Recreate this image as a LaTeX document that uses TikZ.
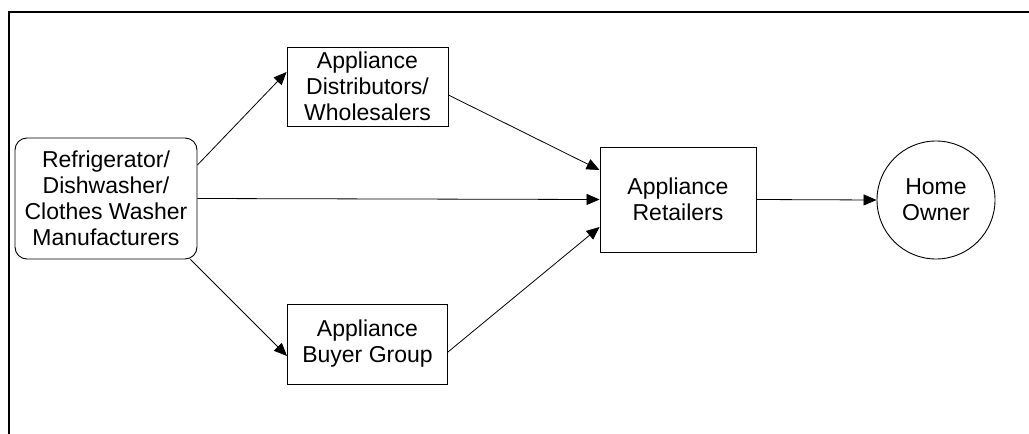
\documentclass[tikz,border=0pt]{standalone}
\usepackage{fontspec}
\setmainfont{Liberation Sans}
\usetikzlibrary{arrows.meta}
\begin{document}
\begin{tikzpicture}[x=1pt,y=-1pt,
  box/.style={draw,line width=0.9pt,inner sep=0pt,align=center,
    font=\fontsize{23}{26}\selectfont},
  conn/.style={line width=0.8pt,-{Triangle[length=13pt,width=11pt]}},
  frame/.style={line width=2pt}]
\useasboundingbox (0,0) rectangle (1029,434);
\draw[frame] (9,434) -- (9,12) -- (1029,12);
\node[box,rounded corners=12pt,minimum width=182pt,minimum height=121pt] (man) at (106,198.5)
  {Refrigerator/\\Dishwasher/\\Clothes Washer\\Manufacturers};
\node[box,minimum width=161pt,minimum height=79pt] (dist) at (367.5,86.5)
  {Appliance\\Distributors/\\Wholesalers};
\node[box,minimum width=160pt,minimum height=80pt] (buy) at (367.5,344)
  {Appliance\\Buyer Group};
\node[box,minimum width=156pt,minimum height=105pt] (ret) at (678,199.5)
  {Appliance\\Retailers};
\node[box,circle,minimum size=118pt] (home) at (936,200)
  {Home\\Owner};
\draw[conn] ([yshift=33.5pt]man.east) -- ([yshift=14.5pt]dist.west);
\draw[conn] (man.east) -- (ret.west);
\draw[conn] ([xshift=-7pt]man.south east) -- ([yshift=-12pt]buy.west);
\draw[conn] ([yshift=-8.5pt]dist.east) -- ([yshift=29.5pt]ret.west);
\draw[conn] ([yshift=-8pt]buy.east) -- ([yshift=-27.5pt]ret.west);
\draw[conn] (ret.east) -- (home.west);
\end{tikzpicture}
\end{document}
